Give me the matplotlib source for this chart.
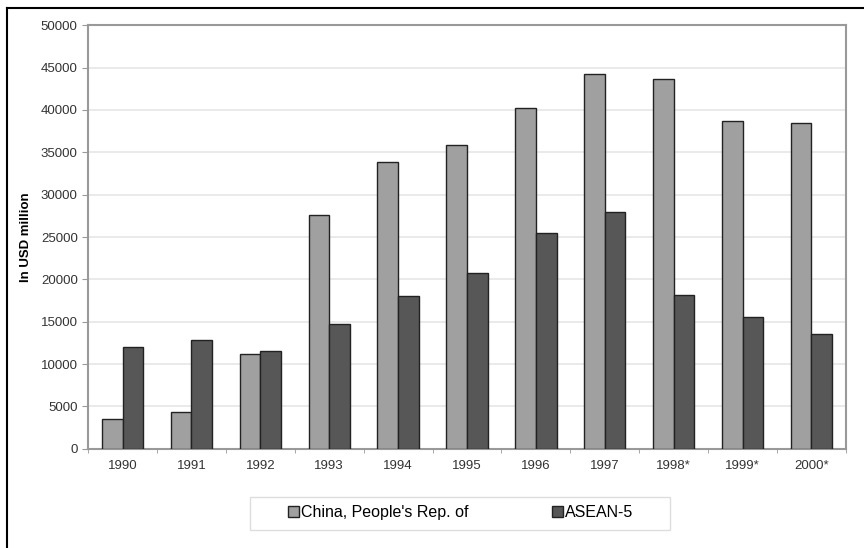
import numpy as np
import matplotlib
matplotlib.use('Agg')
import matplotlib.pyplot as plt
from matplotlib.lines import Line2D
from matplotlib.patches import Rectangle

plt.rcParams['font.family'] = ['Liberation Sans', 'DejaVu Sans']

years = ['1990', '1991', '1992', '1993', '1994', '1995', '1996', '1997', '1998*', '1999*', '2000*']
china = [3500, 4300, 11200, 27600, 33800, 35900, 40200, 44200, 43700, 38700, 38400]
asean = [12000, 12900, 11500, 14700, 18000, 20800, 25500, 27900, 18100, 15500, 13500]

fig = plt.figure(figsize=(8.64, 5.48), dpi=100)
ax = fig.add_axes([0.102, 0.181, 0.877, 0.773])

x = np.arange(len(years))
w = 0.30
ax.bar(x - w / 2, china, w, color='#a0a0a0', edgecolor='#222222', linewidth=1.0,
       label="China, People's Rep. of", zorder=3)
ax.bar(x + w / 2, asean, w, color='#575757', edgecolor='#222222', linewidth=1.0,
       label='ASEAN-5', zorder=3)

ax.set_xlim(-0.5, len(years) - 0.5)
ax.set_ylim(0, 50000)
ax.set_yticks(range(0, 50001, 5000))
ax.set_xticks(x)
ax.set_xticklabels(years, fontsize=9.5, color='#333333')
ax.tick_params(axis='y', labelsize=9.5, labelcolor='#333333', length=4, color='#999999')
ax.tick_params(axis='x', length=0, pad=8)
ax.set_xticks(np.arange(-0.5, len(years)), minor=True)
ax.tick_params(axis='x', which='minor', length=3, color='#999999')
ax.grid(axis='y', color='#e6e6e6', linewidth=1.2, zorder=0)
for s in ax.spines.values():
    s.set_color('#999999')
    s.set_linewidth(1.5)
ax.set_ylabel('In USD million', fontsize=9.5, fontweight='bold', labelpad=6)

# legend box drawn separately for wide side padding
fig.add_artist(Rectangle((250 / 864, 1 - 530 / 548), 420 / 864, 33 / 548,
                         transform=fig.transFigure, facecolor='white',
                         edgecolor='#dddddd', linewidth=1.0))
leg = fig.legend(loc='center', bbox_to_anchor=(0.533, 0.064), ncol=2, fontsize=11.5,
                 frameon=False, columnspacing=5.2,
                 handlelength=0.7, handleheight=0.7, handletextpad=0.15)

# outer frame lines (left and top)
fig.add_artist(Line2D([0.008, 0.008], [0, 0.985], color='black', linewidth=1.5,
                      transform=fig.transFigure))
fig.add_artist(Line2D([0.008, 1.0], [0.985, 0.985], color='black', linewidth=1.5,
                      transform=fig.transFigure))

fig.savefig('out.png', dpi=100)
